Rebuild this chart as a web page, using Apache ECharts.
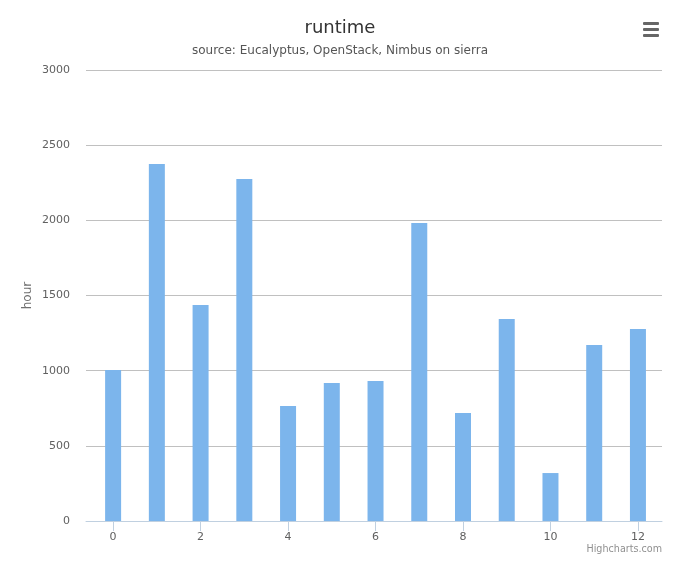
<!doctype html>
<html>
<head>
  <meta charset="UTF-8">
  <title>runtime</title>
  <script src="https://cdn.jsdelivr.net/npm/echarts@6/dist/echarts.min.js"></script>
  <style>
    body { margin: 0; background: #fff; }
  </style>
</head>
<body>
  <div id="chart" style="width: 680px; height: 566px;"></div>
  <script>
    // values
    var xValues = [0, 1, 2, 3, 4, 5, 6, 7, 8, 9, 10, 11, 12];
    var hours = [1005, 2375, 1437, 2275, 765, 918, 931, 1982, 718, 1344, 319, 1171, 1277];
    var xTicks = [0, 2, 4, 6, 8, 10, 12];

    var points = [];
    for (var i = 0; i < xValues.length; i++) {
      points.push([xValues[i], hours[i]]);
    }

    var font = 'DejaVu Sans';
    var chart = echarts.init(document.getElementById('chart'));

    var option = {
      animation: false,
      textStyle: { fontFamily: font },
      title: {
        text: 'runtime',
        subtext: 'source: Eucalyptus, OpenStack, Nimbus on sierra',
        left: 'center',
        top: 14,
        itemGap: 8,
        textStyle: { fontFamily: font, fontSize: 18, fontWeight: 'normal', color: '#333333' },
        subtextStyle: { fontFamily: font, fontSize: 12, color: '#555555' }
      },
      grid: { left: 86, right: 18, top: 70, bottom: 45 },
      xAxis: {
        type: 'value',
        min: -0.62,
        max: 12.55,
        splitLine: { show: false },
        axisLine: { show: true, lineStyle: { color: '#c0d0e0' } },
        axisTick: {
          show: true,
          customValues: xTicks,
          length: 10,
          lineStyle: { color: '#c0d0e0' }
        },
        axisLabel: {
          customValues: xTicks,
          color: '#606060',
          fontSize: 11,
          margin: 11
        }
      },
      yAxis: {
        type: 'value',
        min: 0,
        max: 3000,
        interval: 500,
        name: 'hour',
        nameLocation: 'middle',
        nameMoveOverlap: false,
        nameGap: 52,
        nameTextStyle: { color: '#707070', fontSize: 12 },
        axisLine: { show: false },
        axisTick: { show: false },
        axisLabel: {
          color: '#606060',
          fontSize: 11,
          margin: 16,
          formatter: function (v) { return String(v); }
        },
        splitLine: { lineStyle: { color: '#c0c0c0' } }
      },
      graphic: [
        { type: 'rect', right: 21, top: 22, shape: { width: 16, height: 3, r: 1 }, style: { fill: '#666' } },
        { type: 'rect', right: 21, top: 28, shape: { width: 16, height: 3, r: 1 }, style: { fill: '#666' } },
        { type: 'rect', right: 21, top: 34, shape: { width: 16, height: 3, r: 1 }, style: { fill: '#666' } },
        {
          type: 'text', right: 18, top: 544,
          style: { text: 'Highcharts.com', fill: '#909090', fontSize: 9.6, fontFamily: font }
        }
      ],
      series: [
        {
          name: 'runtime',
          type: 'bar',
          barWidth: 16,
          itemStyle: { color: '#7cb5ec' },
          data: points
        }
      ]
    };

    chart.setOption(option);
  </script>
</body>
</html>
